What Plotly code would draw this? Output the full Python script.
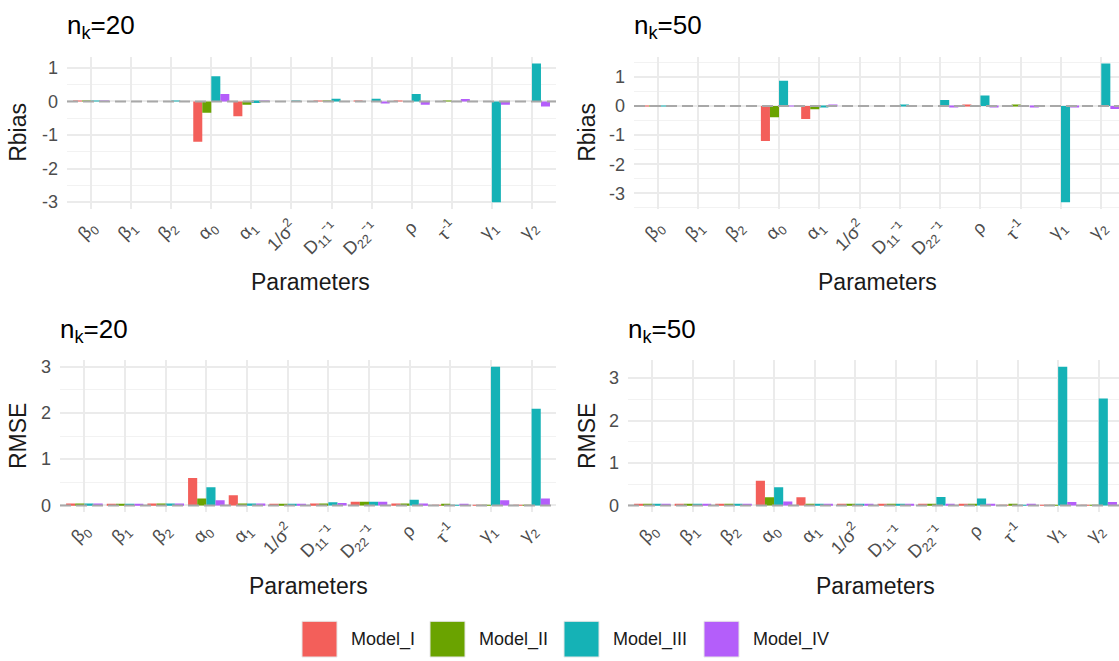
import plotly.graph_objects as go

W, H = 1119, 661

# Parameter labels (x categories)
params = [
    "β<sub>0</sub>", "β<sub>1</sub>", "β<sub>2</sub>", "α<sub>0</sub>", "α<sub>1</sub>",
    "1/σ<sup>2</sup>", "D<sub>11</sub>⁻¹", "D<sub>22</sub>⁻¹",
    "ρ", "τ<sup>-1</sup>", "γ<sub>1</sub>", "γ<sub>2</sub>",
]
models = ["Model_I", "Model_II", "Model_III", "Model_IV"]
colors = ["#F35F5A", "#6AA300", "#15B2B6", "#B45EFA"]

# Relative bias, n_k = 20
rbias20_I   = [0.01, 0.00, 0.00, -1.20, -0.44, 0.00, 0.02, 0.02, 0.01, 0.00, 0.00, 0.00]
rbias20_II  = [0.02, 0.00, 0.00, -0.34, -0.10, 0.00, 0.02, 0.00, 0.00, 0.02, 0.00, 0.00]
rbias20_III = [0.02, 0.00, 0.01, 0.75, -0.05, 0.01, 0.08, 0.08, 0.22, 0.00, -3.00, 1.13]
rbias20_IV  = [0.01, 0.00, 0.00, 0.22, 0.02, 0.00, 0.00, -0.06, -0.10, 0.07, -0.10, -0.15]

# Relative bias, n_k = 50
rbias50_I   = [0.01, 0.00, 0.00, -1.20, -0.45, 0.00, 0.00, 0.01, 0.02, 0.00, 0.00, 0.00]
rbias50_II  = [0.01, 0.00, 0.00, -0.39, -0.11, 0.00, 0.00, 0.00, 0.00, 0.03, 0.00, 0.00]
rbias50_III = [0.01, 0.00, 0.00, 0.87, -0.04, 0.01, 0.04, 0.21, 0.36, 0.00, -3.30, 1.46]
rbias50_IV  = [0.01, 0.00, 0.00, 0.01, 0.02, 0.00, 0.00, -0.05, -0.04, -0.04, -0.05, -0.10]

# RMSE, n_k = 20
rmse20_I   = [0.04, 0.03, 0.04, 0.59, 0.22, 0.02, 0.04, 0.08, 0.04, 0.01, 0.01, 0.01]
rmse20_II  = [0.04, 0.02, 0.04, 0.15, 0.04, 0.02, 0.04, 0.08, 0.04, 0.02, 0.01, 0.01]
rmse20_III = [0.04, 0.03, 0.04, 0.39, 0.04, 0.03, 0.07, 0.08, 0.12, 0.01, 3.00, 2.09]
rmse20_IV  = [0.04, 0.03, 0.04, 0.11, 0.04, 0.02, 0.05, 0.08, 0.04, 0.02, 0.11, 0.15]

# RMSE, n_k = 50
rmse50_I   = [0.04, 0.02, 0.04, 0.58, 0.19, 0.02, 0.03, 0.04, 0.04, 0.01, 0.01, 0.01]
rmse50_II  = [0.04, 0.02, 0.03, 0.19, 0.04, 0.02, 0.03, 0.03, 0.03, 0.02, 0.01, 0.01]
rmse50_III = [0.04, 0.02, 0.04, 0.43, 0.04, 0.03, 0.04, 0.20, 0.16, 0.01, 3.27, 2.52]
rmse50_IV  = [0.04, 0.02, 0.04, 0.09, 0.02, 0.02, 0.03, 0.04, 0.04, 0.02, 0.08, 0.08]

panels = [
    dict(series=[rbias20_I, rbias20_II, rbias20_III, rbias20_IV], title="n<sub>k</sub>=20",
         ylab="Rbias", xs=(67, 556), ys=(54, 208), xmax=12.6, xlab_c=310, ylab_x=18),
    dict(series=[rbias50_I, rbias50_II, rbias50_III, rbias50_IV], title="n<sub>k</sub>=50",
         ylab="Rbias", xs=(634, 1119), ys=(54, 208), xmax=12.44, xlab_c=877, ylab_x=587),
    dict(series=[rmse20_I, rmse20_II, rmse20_III, rmse20_IV], title="n<sub>k</sub>=20",
         ylab="RMSE", xs=(60, 556), ys=(360, 514), xmax=12.6, xlab_c=308, ylab_x=18),
    dict(series=[rmse50_I, rmse50_II, rmse50_III, rmse50_IV], title="n<sub>k</sub>=50",
         ylab="RMSE", xs=(628, 1119), ys=(360, 514), xmax=12.5, xlab_c=875, ylab_x=587),
]

FONT = "Liberation Sans, Arial, Helvetica, sans-serif"
TICK_GREY = "#4D4D4D"


def fx(p):
    return p / W


def fy(p):
    return 1 - p / H


xpos = list(range(1, len(params) + 1))
fig = go.Figure()
layout = dict(
    width=W, height=H, margin=dict(l=0, r=0, t=0, b=0),
    paper_bgcolor="white", plot_bgcolor="white",
    barmode="group", bargap=0.1, bargroupgap=0.0,
    showlegend=False, font=dict(family=FONT, color="#1A1A1A"),
)
shapes, annotations = [], []

for i, pnl in enumerate(panels):
    k = "" if i == 0 else str(i + 1)
    for m, (vals, col) in enumerate(zip(pnl["series"], colors)):
        fig.add_trace(go.Bar(
            x=xpos, y=vals, name=models[m], marker=dict(color=col, line=dict(width=0)),
            offsetgroup=str(m), xaxis="x" + k, yaxis="y" + k,
        ))
    allv = [v for s in pnl["series"] for v in s]
    lo, hi = min(0, min(allv)), max(allv)
    pad = 0.05 * (hi - lo)
    yt = list(range(int(round(lo)) if lo < 0 else 0, int(hi) + 1))
    layout["xaxis" + k] = dict(
        domain=[fx(pnl["xs"][0]), fx(pnl["xs"][1])], anchor="y" + k,
        range=[0.4, pnl["xmax"]], tickvals=xpos, ticktext=params, tickangle=-45,
        showgrid=True, gridcolor="#EBEBEB", gridwidth=1.6, zeroline=False,
        showline=False, ticks="", ticklabelstandoff=3,
        tickfont=dict(family=FONT, size=18, color=TICK_GREY),
    )
    layout["yaxis" + k] = dict(
        domain=[fy(pnl["ys"][1]), fy(pnl["ys"][0])], anchor="x" + k,
        range=[lo - pad, hi + pad], tickvals=yt, ticktext=[str(v) for v in yt],
        showgrid=True, gridcolor="#EBEBEB", gridwidth=1.6, zeroline=False,
        showline=False, ticks="", ticklabelstandoff=8,
        tickfont=dict(family=FONT, size=18, color=TICK_GREY),
        minor=dict(dtick=0.5, tick0=0, showgrid=True, gridcolor="#F2F2F2", gridwidth=1),
    )
    # dashed reference line at zero
    shapes.append(dict(type="line", xref="x%s domain" % k, yref="y" + k,
                       x0=0, x1=1, y0=0, y1=0, layer="above",
                       line=dict(color="#A8A8A8", width=2, dash="11px,5px")))
    x0, x1 = pnl["xs"]
    y0, y1 = pnl["ys"]
    annotations.append(dict(text=pnl["title"], xref="paper", yref="paper",
                            x=fx(x0 - 2), y=fy(y0 - 30), xanchor="left", yanchor="middle",
                            showarrow=False, font=dict(family=FONT, size=26, color="black")))
    annotations.append(dict(text="Parameters", xref="paper", yref="paper",
                            x=fx(pnl["xlab_c"]), y=fy(y1 + 74),
                            xanchor="center", yanchor="middle", showarrow=False,
                            font=dict(family=FONT, size=23, color="#1A1A1A")))
    annotations.append(dict(text=pnl["ylab"], xref="paper", yref="paper",
                            x=fx(pnl["ylab_x"]), y=fy((y0 + y1) / 2),
                            xanchor="center", yanchor="middle", textangle=-90, showarrow=False,
                            font=dict(family=FONT, size=23, color="#1A1A1A")))

# legend keys along the bottom
key_x = [302, 430, 564, 704]
for kx, col, name in zip(key_x, colors, models):
    shapes.append(dict(type="rect", xref="paper", yref="paper",
                       x0=fx(kx), x1=fx(kx + 35), y0=fy(660), y1=fy(624),
                       fillcolor=col, line=dict(color="#E6E6E6", width=1)))
    annotations.append(dict(text=name, xref="paper", yref="paper",
                            x=fx(kx + 47), y=fy(642), xanchor="left", yanchor="middle",
                            showarrow=False, font=dict(family=FONT, size=18, color="#1A1A1A")))

layout["shapes"] = shapes
layout["annotations"] = annotations
fig.update_layout(**layout)
fig.write_html("out.html")
